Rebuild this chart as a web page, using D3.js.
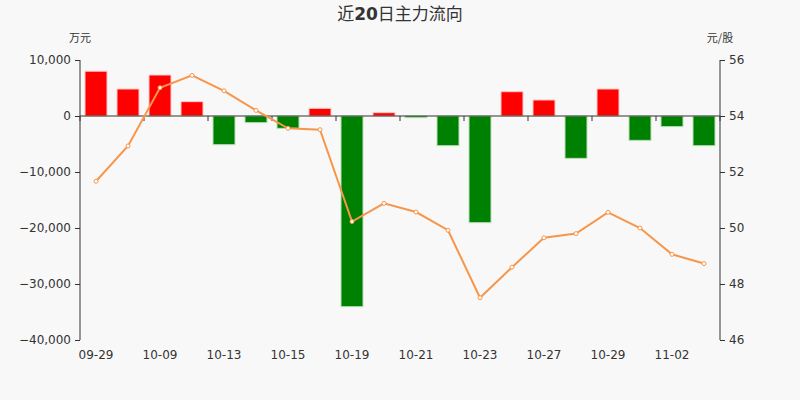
<!DOCTYPE html>
<html>
<head>
<meta charset="utf-8">
<script src="https://cdn.jsdelivr.net/npm/d3@7"></script>
<style>
  body { margin: 0; background: #f8f8f8; }
  svg { display: block; font-family: "Noto Sans CJK SC", "DejaVu Sans", sans-serif; }
  .axis text { font-family: "DejaVu Sans", sans-serif; font-size: 12px; fill: #333; }
  .axis path, .axis line { stroke: #333; }
</style>
</head>
<body>
<div id="chart"></div>
<script>
// Data
const dates = ["09-29", "09-30", "10-09", "10-12", "10-13", "10-14", "10-15", "10-16", "10-19", "10-20",
               "10-21", "10-22", "10-23", "10-26", "10-27", "10-28", "10-29", "10-30", "11-02", "11-03"];
const flow = [8000, 4820, 7320, 2560, -5120, -1190, -2200, 1370, -34050, 590,
              -300, -5300, -19050, 4340, 2860, -7560, 4820, -4350, -1900, -5300];
const price = [51.67, 52.93, 55.01, 55.45, 54.90, 54.20, 53.56, 53.51, 50.23, 50.88,
               50.57, 49.92, 47.51, 48.60, 49.65, 49.80, 50.56, 50.00, 49.06, 48.73];
const flowTicks = [10000, 0, -10000, -20000, -30000, -40000];
const priceTicks = [56, 54, 52, 50, 48, 46];

// Dimensions
const W = 800, H = 400;
const margin = { top: 60, right: 80, bottom: 60, left: 80 };
const width = W - margin.left - margin.right;
const height = H - margin.top - margin.bottom;

const svg = d3.select("#chart")
    .append("svg")
    .attr("width", W)
    .attr("height", H)
    .style("background", "#f8f8f8");

const g = svg.append("g")
    .attr("transform", `translate(${margin.left},${margin.top})`);

// Scales
const x = d3.scaleBand()
    .domain(dates)
    .range([0, width]);

const xStep = x.step();
const barW = 22;

const yLeft = d3.scaleLinear()
    .domain([-40000, 10000])
    .range([height, 0]);

const yRight = d3.scaleLinear()
    .domain([46, 56])
    .range([height, 0]);

const fmt = d3.format(",");

// Bars
g.selectAll("rect.bar")
    .data(flow)
    .enter()
    .append("rect")
    .attr("class", "bar")
    .attr("x", (d, i) => x(dates[i]) + (xStep - barW) / 2)
    .attr("width", barW)
    .attr("y", d => yLeft(Math.max(0, d)))
    .attr("height", d => Math.abs(yLeft(d) - yLeft(0)))
    .attr("fill", d => d >= 0 ? "#ff0000" : "#008000")
    .attr("stroke", d => d >= 0 ? "#ffc8c8" : "#b8e0b8")
    .attr("stroke-width", 1);

// X axis at zero line
const xAxisG = g.append("g")
    .attr("class", "axis")
    .attr("transform", `translate(0,${yLeft(0)})`);

xAxisG.append("line")
    .attr("x1", 0)
    .attr("x2", width)
    .attr("stroke", "#333");

// ticks at every other band boundary
d3.range(0, dates.length + 1, 2).forEach(i => {
    xAxisG.append("line")
        .attr("x1", i * xStep)
        .attr("x2", i * xStep)
        .attr("y1", 0)
        .attr("y2", 5)
        .attr("stroke", "#333");
});

// x labels at bottom
g.selectAll("text.xlabel")
    .data(dates.filter((d, i) => i % 2 === 0))
    .enter()
    .append("text")
    .attr("class", "xlabel")
    .attr("x", d => x(d) + xStep / 2)
    .attr("y", height + 19)
    .attr("text-anchor", "middle")
    .style("font-family", "DejaVu Sans, sans-serif")
    .style("font-size", "12px")
    .style("fill", "#333")
    .text(d => d);

// Left axis
g.append("g")
    .attr("class", "axis")
    .call(d3.axisLeft(yLeft).tickValues(flowTicks).tickFormat(fmt).tickSize(5).tickPadding(4))
    .call(a => a.select(".domain").attr("d", `M0,0V${height}`));

// Right axis
g.append("g")
    .attr("class", "axis")
    .attr("transform", `translate(${width},0)`)
    .call(d3.axisRight(yRight).tickValues(priceTicks).tickSize(5).tickPadding(4))
    .call(a => a.select(".domain").attr("d", `M0,0V${height}`));

// Line
const line = d3.line()
    .x((d, i) => x(dates[i]) + xStep / 2)
    .y(d => yRight(d));

g.append("path")
    .datum(price)
    .attr("fill", "none")
    .attr("stroke", "#f7964a")
    .attr("stroke-width", 2)
    .attr("d", line);

g.selectAll("circle.pt")
    .data(price)
    .enter()
    .append("circle")
    .attr("class", "pt")
    .attr("cx", (d, i) => x(dates[i]) + xStep / 2)
    .attr("cy", d => yRight(d))
    .attr("r", 2)
    .attr("fill", "#fff")
    .attr("stroke", "#f7964a")
    .attr("stroke-width", 1);

// Title
const title = svg.append("text")
    .attr("x", W / 2)
    .attr("y", 20)
    .attr("text-anchor", "middle")
    .style("font-size", "17px")
    .style("fill", "#333");
title.append("tspan").text("近");
title.append("tspan").style("font-weight", "bold").style("font-family", "DejaVu Sans, sans-serif").text("20");
title.append("tspan").text("日主力流向");

// Unit labels
svg.append("text")
    .attr("x", 80)
    .attr("y", 42)
    .attr("text-anchor", "middle")
    .style("font-size", "11px")
    .style("fill", "#333")
    .text("万元");

svg.append("text")
    .attr("x", 720)
    .attr("y", 42)
    .attr("text-anchor", "middle")
    .style("font-size", "11px")
    .style("fill", "#333")
    .text("元/股");
</script>
</body>
</html>
